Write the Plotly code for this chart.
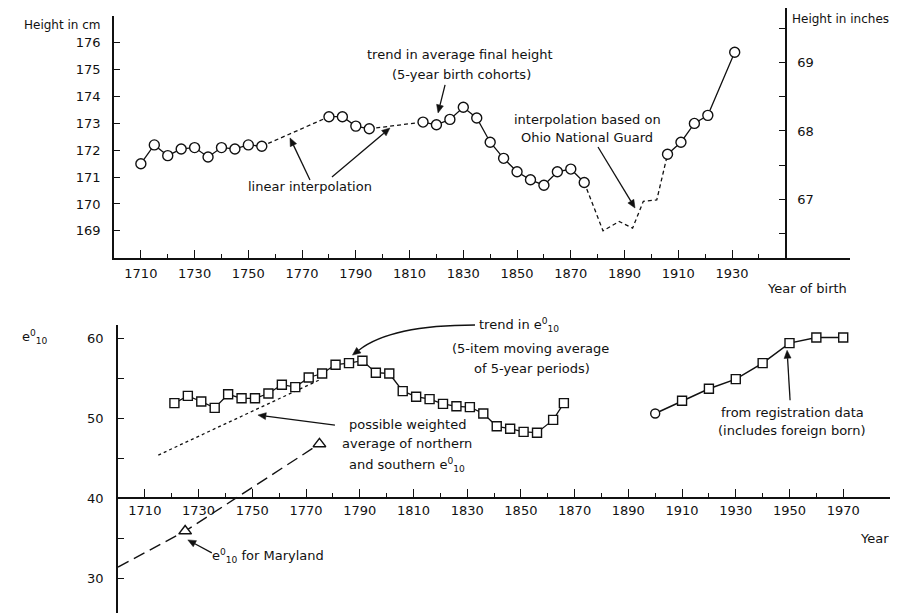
import math
import plotly.graph_objects as go

# the page body has an 8px margin: the figure starts 8px in from the top-left
OFF = 8
W, H = 905 - OFF, 613 - OFF

# ---------------- Top panel: average final height (cm) ----------------
h_years_a = [1710, 1715, 1720, 1725, 1730, 1735, 1740, 1745, 1750, 1755]
h_cm_a = [171.5, 172.2, 171.8, 172.05, 172.1, 171.75, 172.1, 172.05, 172.2, 172.15]
h_years_b = [1780, 1785, 1790, 1795]
h_cm_b = [173.25, 173.25, 172.9, 172.8]
h_years_c = [1815, 1820, 1825, 1830, 1835, 1840, 1845, 1850, 1855, 1860, 1865, 1870, 1875]
h_cm_c = [173.05, 172.95, 173.15, 173.6, 173.2, 172.3, 171.7, 171.2, 170.9, 170.7, 171.2, 171.3, 170.8]
h_years_d = [1906, 1911, 1916, 1921, 1931]
h_cm_d = [171.85, 172.3, 173.0, 173.3, 175.65]

lin1_years = [1755, 1780]
lin1_cm = [172.15, 173.25]
lin2_years = [1795, 1815]
lin2_cm = [172.8, 173.05]
ohio_years = [1875, 1882, 1888, 1893, 1897, 1902, 1906]
ohio_cm = [170.8, 169.0, 169.35, 169.1, 170.1, 170.15, 171.85]

top_x_major = [1710, 1730, 1750, 1770, 1790, 1810, 1830, 1850, 1870, 1890, 1910, 1930]
top_x_minor = [1720, 1740, 1760, 1780, 1800, 1820, 1840, 1860, 1880, 1900, 1920, 1940]
cm_ticks = [169, 170, 171, 172, 173, 174, 175, 176]
inch_ticks = [67, 68, 69]
inch_minor = [66.5, 67.5, 68.5, 69.5]

# ---------------- Bottom panel: e0_10 ----------------
e_years = [1721, 1726, 1731, 1736, 1741, 1746, 1751, 1756, 1761, 1766,
           1771, 1776, 1781, 1786, 1791, 1796, 1801, 1806, 1811, 1816,
           1821, 1826, 1831, 1836, 1841, 1846, 1851, 1856, 1862, 1866]
e_vals = [51.9, 52.8, 52.1, 51.3, 53.0, 52.5, 52.5, 53.1, 54.2, 53.9,
          55.1, 55.6, 56.7, 56.9, 57.2, 55.7, 55.6, 53.4, 52.7, 52.4,
          51.8, 51.5, 51.4, 50.6, 49.0, 48.7, 48.3, 48.2, 49.8, 51.9]
reg_years = [1900, 1910, 1920, 1930, 1940, 1950, 1960, 1970]
reg_vals = [50.6, 52.2, 53.7, 54.9, 56.9, 59.4, 60.1, 60.1]
wavg_years = [1715, 1775]
wavg_vals = [45.4, 54.8]
md_years = [1700, 1725, 1775]
md_vals = [31.4, 35.9, 46.8]

bot_x_major = [1710, 1730, 1750, 1770, 1790, 1810, 1830, 1850, 1870, 1890, 1910, 1930, 1950, 1970]
bot_x_minor = [1720, 1740, 1760, 1780, 1800, 1820, 1840, 1860, 1880, 1900, 1920, 1940, 1960]
e_ticks = [30, 40, 50, 60]
e_minor = [35, 45, 55]

FONT = "DejaVu Sans"
BLACK = "#111111"
FS = 13

# layout geometry (page pixels)
TOP_X0, TOP_X1, TOP_PXYR = 114, 850, 2.687
TOP_Y0, TOP_Y1 = 16, 257.7          # pixel rows of 177 cm and 168 cm
BOT_X0, BOT_X1, BOT_PXYR = 118, 890, 2.686
BOT_AXIS_Y, BOT_PXUNIT = 498.3, 8.0  # pixel row of e=40, px per unit


def px(x):
    return (x - OFF) / W


def py(y):
    return min(1.0, 1 - (y - OFF) / H)


def top_pix(year, cm):
    return (TOP_X0 + (year - 1700) * TOP_PXYR,
            TOP_Y0 + (177 - cm) * (TOP_Y1 - TOP_Y0) / 9)


def bot_pix(year, v):
    return (BOT_X0 + (year - 1700) * BOT_PXYR, BOT_AXIS_Y - (v - 40) * BOT_PXUNIT)


fig = go.Figure()

circ = dict(symbol="circle", size=10, color="white", line=dict(color=BLACK, width=1.4))
sq = dict(symbol="square", size=9, color="white", line=dict(color=BLACK, width=1.4))

for xs, ys in [(lin1_years, lin1_cm), (lin2_years, lin2_cm), (ohio_years, ohio_cm)]:
    fig.add_trace(go.Scatter(x=xs, y=ys, mode="lines", xaxis="x", yaxis="y",
                             line=dict(color=BLACK, width=1.3, dash="4px,3px")))
for xs, ys in [(h_years_a, h_cm_a), (h_years_b, h_cm_b), (h_years_c, h_cm_c), (h_years_d, h_cm_d)]:
    fig.add_trace(go.Scatter(x=xs, y=ys, mode="lines+markers", xaxis="x", yaxis="y",
                             line=dict(color=BLACK, width=1.3), marker=circ))
fig.add_trace(go.Scatter(x=[None], y=[None], xaxis="x", yaxis="y3", mode="lines"))

fig.add_trace(go.Scatter(x=wavg_years, y=wavg_vals, mode="lines", xaxis="x2", yaxis="y2",
                         line=dict(color=BLACK, width=1.3, dash="3px,3px")))
fig.add_trace(go.Scatter(x=md_years, y=md_vals, mode="lines", xaxis="x2", yaxis="y2",
                         line=dict(color=BLACK, width=1.4, dash="12px,6px")))
fig.add_trace(go.Scatter(x=md_years[1:], y=md_vals[1:], mode="markers", xaxis="x2", yaxis="y2",
                         marker=dict(symbol="triangle-up", size=11, color="white",
                                     line=dict(color=BLACK, width=1.5))))
fig.add_trace(go.Scatter(x=e_years, y=e_vals, mode="lines+markers", xaxis="x2", yaxis="y2",
                         line=dict(color=BLACK, width=1.3), marker=sq))
fig.add_trace(go.Scatter(x=reg_years, y=reg_vals, mode="lines+markers", xaxis="x2", yaxis="y2",
                         line=dict(color=BLACK, width=1.5),
                         marker=dict(symbol=["circle"] + ["square"] * 7, size=9, color="white",
                                     line=dict(color=BLACK, width=1.4))))

tickfont = dict(family=FONT, size=FS, color=BLACK)

fig.update_layout(
    width=W, height=H, margin=dict(l=0, r=0, t=0, b=0),
    paper_bgcolor="white", plot_bgcolor="rgba(0,0,0,0)", showlegend=False,
    font=dict(family=FONT, size=FS, color=BLACK),
    xaxis=dict(domain=[px(TOP_X0), px(TOP_X1)],
               range=[1700, 1700 + (TOP_X1 - TOP_X0) / TOP_PXYR],
               anchor="y", showline=True, linewidth=2, linecolor=BLACK,
               tickmode="array", tickvals=top_x_major, ticks="inside", ticklen=8,
               tickwidth=1.3, tickcolor=BLACK, tickfont=tickfont, ticklabelstandoff=3,
               minor=dict(tickmode="array", tickvals=top_x_minor, ticks="inside",
                          ticklen=4, tickwidth=1.3, tickcolor=BLACK),
               showgrid=False, zeroline=False),
    yaxis=dict(domain=[py(TOP_Y1), py(TOP_Y0)], range=[168, 177], anchor="x",
               showline=True, linewidth=1.8, linecolor=BLACK,
               tickmode="array", tickvals=cm_ticks, ticks="inside", ticklen=6,
               tickwidth=1.3, tickcolor=BLACK, tickfont=tickfont, ticklabelstandoff=9,
               showgrid=False, zeroline=False),
    yaxis3=dict(domain=[py(TOP_Y1), py(8)],
                range=[168 / 2.54, (177 + (TOP_Y0 - 8) * 9 / (TOP_Y1 - TOP_Y0)) / 2.54],
                anchor="free", position=px(785.7), side="right",
                showline=True, linewidth=1.8, linecolor=BLACK,
                tickmode="array", tickvals=inch_ticks,
                ticks="inside", ticklen=6, tickwidth=1.3, tickcolor=BLACK,
                tickfont=tickfont, ticklabelstandoff=8,
                minor=dict(tickmode="array", tickvals=inch_minor, ticks="inside",
                           ticklen=6, tickwidth=1.3, tickcolor=BLACK),
                showgrid=False, zeroline=False),
    xaxis2=dict(domain=[px(BOT_X0), px(BOT_X1)],
                range=[1700, 1700 + (BOT_X1 - BOT_X0) / BOT_PXYR],
                anchor="free", position=py(BOT_AXIS_Y), showline=True, linewidth=2,
                linecolor=BLACK, tickmode="array", tickvals=bot_x_major, ticks="inside",
                ticklen=8, tickwidth=1.3, tickcolor=BLACK, tickfont=tickfont,
                ticklabelstandoff=0,
                minor=dict(tickmode="array", tickvals=bot_x_minor, ticks="inside",
                           ticklen=4, tickwidth=1.3, tickcolor=BLACK),
                showgrid=False, zeroline=False),
    yaxis2=dict(domain=[0, py(325)],
                range=[40 - (613 - BOT_AXIS_Y) / BOT_PXUNIT, 40 + (BOT_AXIS_Y - 325) / BOT_PXUNIT],
                anchor="x2", showline=True, linewidth=1.8, linecolor=BLACK,
                tickmode="array", tickvals=e_ticks, ticks="inside",
                ticklen=6, tickwidth=1.3, tickcolor=BLACK, tickfont=tickfont,
                ticklabelstandoff=10,
                minor=dict(tickmode="array", tickvals=e_minor, ticks="inside",
                           ticklen=6, tickwidth=1.3, tickcolor=BLACK),
                showgrid=False, zeroline=False),
)

ann = []
shapes = []


def txt(x, y, s, xanchor="left", size=FS):
    ann.append(dict(x=px(x), y=py(y), xref="paper", yref="paper", text=s, showarrow=False,
                    xanchor=xanchor, yanchor="middle",
                    font=dict(family=FONT, size=size, color=BLACK)))


def head(hx, hy, ux, uy, L=8.0, hw=3.5):
    bx, by = hx - L * ux, hy - L * uy
    nx, ny = -uy, ux
    p1 = (bx + hw * nx, by + hw * ny)
    p2 = (bx - hw * nx, by - hw * ny)
    shapes.append(dict(type="path", xref="paper", yref="paper",
                       path=f"M {px(hx)},{py(hy)} L {px(p1[0])},{py(p1[1])} "
                            f"L {px(p2[0])},{py(p2[1])} Z",
                       fillcolor=BLACK, line=dict(color=BLACK, width=0.5)))
    return bx, by


def arrow(hpix, dx, dy):
    hx, hy = hpix
    tx, ty = hx + dx, hy + dy
    L = math.hypot(dx, dy)
    ux, uy = -dx / L, -dy / L
    bx, by = head(hx, hy, ux, uy)
    shapes.append(dict(type="line", xref="paper", yref="paper",
                       x0=px(tx), y0=py(ty), x1=px(bx), y1=py(by),
                       line=dict(color=BLACK, width=1.3)))


E = "e<sup>0</sup><sub>10</sub>"

txt(103, 25, "Height in cm", "right", 12)
txt(790, 19, "Height in inches", "left", 12)
txt(849, 288, "Year of birth", "right")
txt(460, 55, "trend in average final height", "center")
txt(462, 74, "(5-year birth cohorts)", "center")
txt(310, 187, "linear interpolation", "center")
txt(587, 119, "interpolation based on", "center")
txt(587, 137, "Ohio National Guard", "center")
arrow(top_pix(1820.6, 173.39), 7, -28)
arrow(top_pix(1765.5, 172.46), 20, 42)
arrow(top_pix(1802.7, 172.83), -58, 49)
arrow(top_pix(1893.9, 169.85), -37, -61)

txt(20, 337, E, "left")
txt(891, 538, "Year", "right")
txt(477, 325, "trend in " + E, "left")
txt(530, 348, "(5-item moving average", "center")
txt(532, 368, "of 5-year periods)", "center")
txt(407, 424, "possible weighted", "center")
txt(407, 443, "average of northern", "center")
txt(407, 465, "and southern " + E, "center")
txt(210, 556, E + " for Maryland", "left")
txt(792, 412, "from registration data", "center")
txt(792, 430, "(includes foreign born)", "center")
arrow(bot_pix(1752.1, 50.4), 77, 10)
arrow(bot_pix(1726.0, 34.8), 24, 13)
arrow(bot_pix(1949.1, 58.5), 3, 50)

# curved arrow for "trend in e0_10"
hx, hy = bot_pix(1787.3, 57.9)
cx, cy = 391, 325
d = math.hypot(hx - cx, hy - cy)
bx, by = head(hx, hy, (hx - cx) / d, (hy - cy) / d)
shapes.append(dict(type="path", xref="paper", yref="paper",
                   path=f"M {px(475)},{py(325)} Q {px(cx)},{py(cy)} {px(bx)},{py(by)}",
                   line=dict(color=BLACK, width=1.3)))

fig.update_layout(annotations=ann, shapes=shapes)
fig.write_html("out.html")
